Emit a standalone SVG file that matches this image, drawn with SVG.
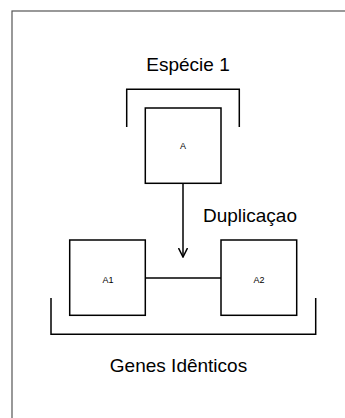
<svg xmlns="http://www.w3.org/2000/svg" width="345" height="418" viewBox="0 0 345 418">
<style>
.box{fill:#fff;stroke:#000;stroke-width:1.5}
.br{fill:none;stroke:#000;stroke-width:1.5}
.lbl{font-family:"Liberation Sans",Arial,sans-serif;font-size:19px;fill:#000;text-anchor:middle}
.sm{font-family:"Liberation Sans",Arial,sans-serif;font-size:9px;fill:#000;text-anchor:middle}
</style>
<defs>
<marker id="arr" viewBox="0 0 10 10" refX="9" refY="5" markerWidth="10" markerHeight="10" markerUnits="userSpaceOnUse" orient="auto">
<path d="M0,0.5 L9,5 L0,9.5" fill="none" stroke="#000" stroke-width="1.5"/>
</marker>
</defs>
<rect x="0" y="0" width="345" height="418" fill="#fff"/>
<rect x="12" y="11" width="360" height="420" fill="none" stroke="#555" stroke-width="1.2"/>
<g id="frame-top">
<path class="br" d="M126.7,127 V89.3 H239.3 V127"/>
<text class="lbl" x="188" y="71">Espécie 1</text>
</g>
<g id="frame-bottom">
<path class="br" d="M51,298 V334.3 H315.7 V298"/>
<text class="lbl" x="178.5" y="372">Genes Idênticos</text>
</g>
<g id="connectors">
<line x1="183" y1="183.3" x2="183" y2="257" stroke="#000" stroke-width="1.5" marker-end="url(#arr)"/>
<line x1="145.3" y1="278" x2="221" y2="278" stroke="#000" stroke-width="1.5"/>
<text class="lbl" x="250" y="222">Duplicaçao</text>
</g>
<g id="node-A">
<rect class="box" x="145.3" y="108" width="75.7" height="75.3"/>
<text class="sm" x="183" y="149">A</text>
</g>
<g id="node-A1">
<rect class="box" x="69.7" y="240" width="75.6" height="75.3"/>
<text class="sm" x="108" y="283">A1</text>
</g>
<g id="node-A2">
<rect class="box" x="221" y="240" width="75.7" height="75.3"/>
<text class="sm" x="259" y="283">A2</text>
</g>
</svg>
